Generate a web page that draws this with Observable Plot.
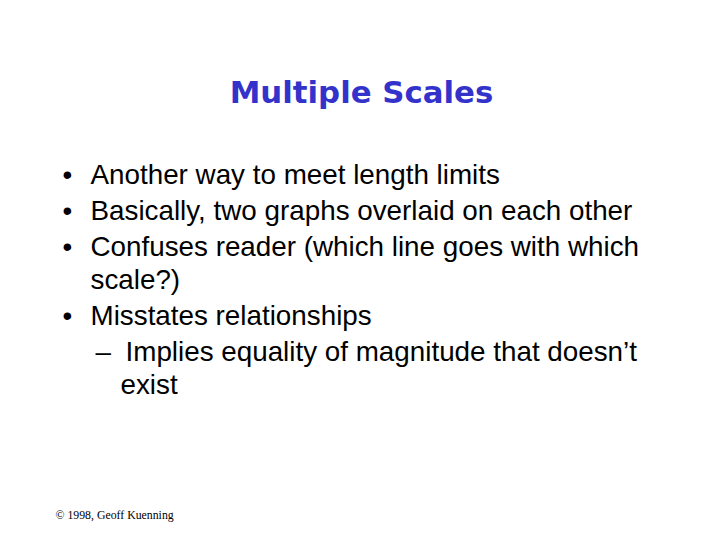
<!DOCTYPE html>
<html>
<head>
<meta charset="utf-8">
<script src="https://cdn.jsdelivr.net/npm/d3@7"></script>
<script src="https://cdn.jsdelivr.net/npm/@observablehq/plot@0.6"></script>
<style>
  html, body { margin: 0; padding: 0; background: #fff; }
  #chart svg { display: block; }
</style>
</head>
<body>
<div id="chart"></div>
<script>
const title = "Multiple Scales";
const lineTexts = [
  "Another way to meet length limits",
  "Basically, two graphs overlaid on each other",
  "Confuses reader (which line goes with which",
  "scale?)",
  "Misstates relationships",
  "Implies equality of magnitude that doesn\u2019t",
  "exist"
];
const lineLevels = [1, 1, 1, 1, 1, 2, 2];
const lineStartsItem = [true, true, true, false, true, true, false];
const footer = "\u00a9 1998, Geoff Kuenning";

// Layout (in page pixels)
const W = 720, H = 540;
const firstY = 175, lineGap = 33, itemGap = 3;
const textX = {1: 90, 2: 120};
const markerX = {1: 62, 2: 95};
const subTextX = 125;
const bodySize = 27.8;

let y = firstY;
const rows = lineTexts.map((t, i) => {
  if (i > 0) y += lineGap + (lineStartsItem[i] ? itemGap : 0);
  const lvl = lineLevels[i];
  const x = lineStartsItem[i] && lvl === 2 ? subTextX : textX[lvl];
  return {text: t, x, y, lvl, start: lineStartsItem[i]};
});
const markers = rows.filter(r => r.start).map(r => ({
  text: r.lvl === 1 ? "\u2022" : "\u2013", x: markerX[r.lvl], y: r.y, lvl: r.lvl
}));

const plot = Plot.plot({
  width: W, height: H,
  margin: 0,
  x: {domain: [0, W], axis: null},
  y: {domain: [0, H], axis: null, reverse: true},
  style: {background: "#fff"},
  marks: [
    Plot.text([title], {x: () => 361, y: () => 93, text: d => d, fontSize: 30.8, fontWeight: "bold",
      fontFamily: "DejaVu Sans", fill: "#3333cc", textAnchor: "middle"}),
    Plot.text(markers, {x: "x", y: "y", text: "text", textAnchor: "start", fontSize: bodySize,
      fontFamily: "Liberation Sans", fill: "#000"}),
    Plot.text(rows, {x: "x", y: "y", text: "text", textAnchor: "start", fontSize: bodySize,
      fontFamily: "Liberation Sans", fill: "#000"}),
    Plot.text([footer], {x: () => 55, y: () => 515, text: d => d, textAnchor: "start", fontSize: 11.8,
      fontFamily: "Liberation Serif", fill: "#000"})
  ]
});
document.getElementById("chart").append(plot);
</script>
</body>
</html>
